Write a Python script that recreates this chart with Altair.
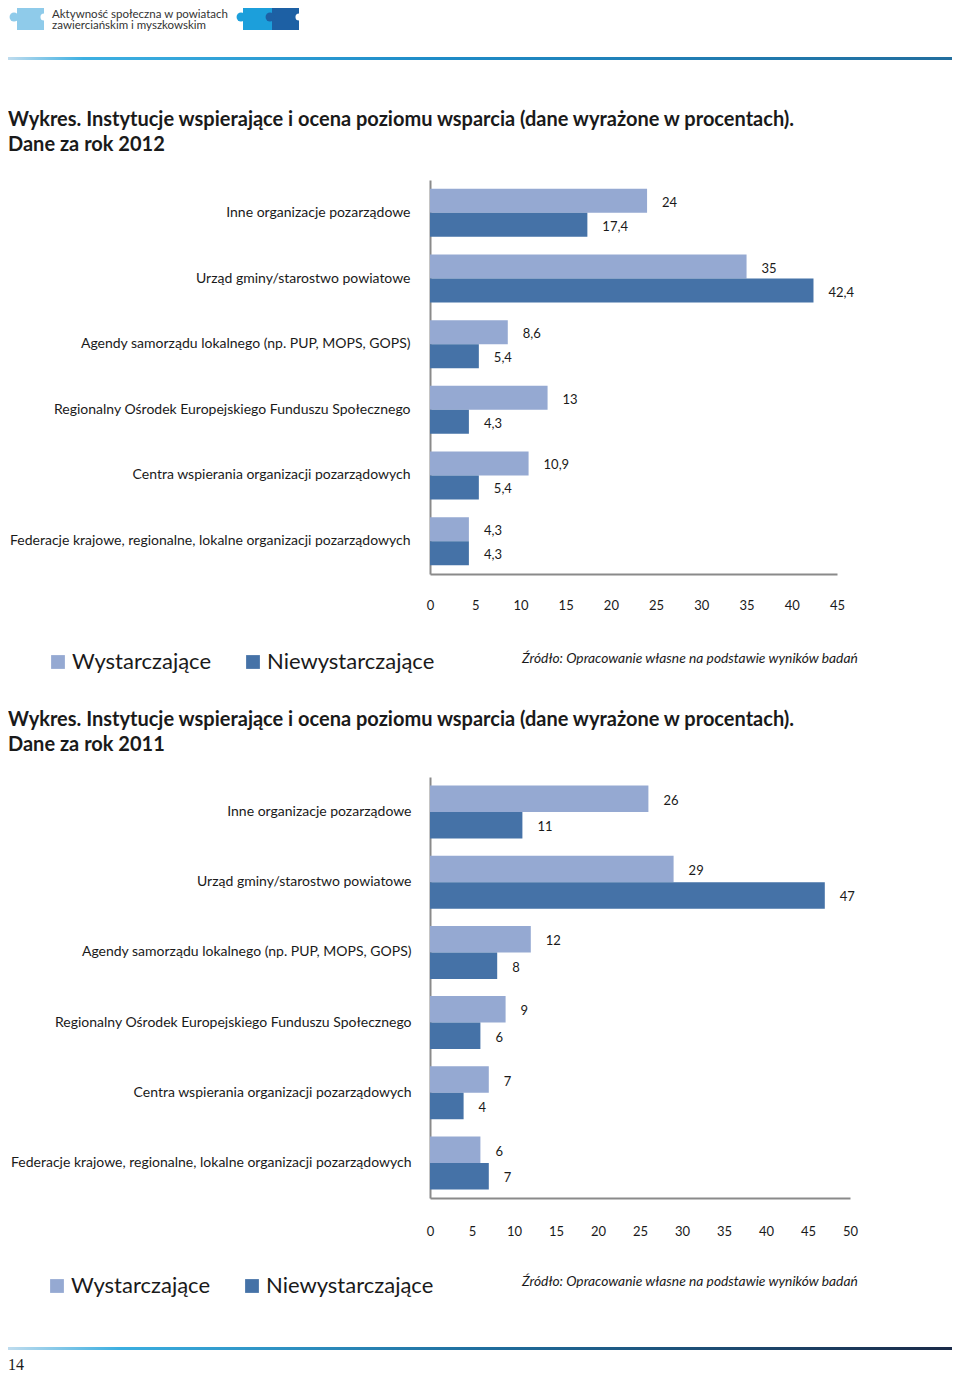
import altair as alt
import pandas as pd

# ---------------- data ----------------
categories = [
    "Inne organizacje pozarządowe",
    "Urząd gminy/starostwo powiatowe",
    "Agendy samorządu lokalnego (np. PUP, MOPS, GOPS)",
    "Regionalny Ośrodek Europejskiego Funduszu Społecznego",
    "Centra wspierania organizacji pozarządowych",
    "Federacje krajowe, regionalne, lokalne organizacji pozarządowych",
]
series = ["Wystarczające", "Niewystarczające"]
w2012 = [24, 35, 8.6, 13, 10.9, 4.3]
n2012 = [17.4, 42.4, 5.4, 4.3, 5.4, 4.3]
w2011 = [26, 29, 12, 9, 7, 6]
n2011 = [11, 47, 8, 6, 4, 7]
ticks2012 = [0, 5, 10, 15, 20, 25, 30, 35, 40, 45]
ticks2011 = [0, 5, 10, 15, 20, 25, 30, 35, 40, 45, 50]

title_line1 = "Wykres. Instytucje wspierające i ocena poziomu wsparcia (dane wyrażone w procentach)."
title2012 = "Dane za rok 2012"
title2011 = "Dane za rok 2011"
source_text = "Źródło: Opracowanie własne na podstawie wyników badań"
header1 = "Aktywność społeczna w powiatach"
header2 = "zawierciańskim i myszkowskim"
page_no = "14"

# ---------------- style ----------------
W, H = 944, 1369
FONT = "Lato"
LIGHT = "#95A9D2"
DARK = "#4572A7"
AXIS = "#8A8A8A"
INK = "#1a1a1a"


def fmt(v):
    return ("%g" % v).replace(".", ",")


def frame(w, n):
    rows = []
    for c, a, b in zip(categories, w, n):
        rows.append({"category": c, "series": series[0], "value": a, "label": fmt(a)})
        rows.append({"category": c, "series": series[1], "value": b, "label": fmt(b)})
    return pd.DataFrame(rows)


def panel(df, xmax, ticks, xrange, yrange, pin, pout, xlabpad, ylabpad, legx, legy):
    x = alt.X(
        "value:Q",
        scale=alt.Scale(domain=[0, xmax], range=xrange, nice=False, zero=True),
        axis=alt.Axis(
            orient="bottom", offset=yrange[1] - H, values=ticks, ticks=False, tickSize=0,
            grid=False, domainColor=AXIS, domainWidth=2, labelPadding=xlabpad,
            labelBaseline="middle", labelFont=FONT, labelFontSize=13, labelColor=INK,
            labelFlush=False, labelOverlap=False, format="d", title=None,
        ),
    )
    y = alt.Y(
        "category:N",
        sort=categories,
        scale=alt.Scale(domain=categories, range=yrange, paddingInner=pin, paddingOuter=pout),
        axis=alt.Axis(
            orient="left", offset=-xrange[0], ticks=False, tickSize=0, grid=False,
            domainColor=AXIS, domainWidth=2, labelPadding=ylabpad, labelLimit=0,
            labelFont=FONT, labelFontSize=14, labelColor=INK, title=None,
        ),
    )
    yo = alt.YOffset("series:N", sort=series,
                     scale=alt.Scale(domain=series, paddingInner=0, paddingOuter=0))
    color = alt.Color(
        "series:N", sort=series,
        scale=alt.Scale(domain=series, range=[LIGHT, DARK]),
        legend=alt.Legend(
            orient="none", legendX=legx, legendY=legy, direction="horizontal", title=None,
            symbolType="square", symbolSize=190, symbolStrokeWidth=0, symbolOpacity=1,
            labelFont=FONT, labelFontSize=22, labelColor=INK, labelOffset=3,
            columnPadding=30, padding=0, labelLimit=0,
        ),
    )
    base = alt.Chart(df)
    bars = base.mark_bar(opacity=1).encode(x=x, y=y, yOffset=yo, color=color)
    labels = base.mark_text(
        align="left", baseline="middle", dx=15, dy=2, font=FONT, fontSize=13, color=INK
    ).encode(x=x, y=y, yOffset=yo, text="label:N")
    return alt.layer(bars, labels)


one = pd.DataFrame({"k": [0]})


def txt(s, x, y, size, weight="normal", style="normal", font=FONT, color=INK, align="left"):
    return alt.Chart(one).mark_text(
        text=s, align=align, baseline="middle", font=font, fontSize=size,
        fontWeight=weight, fontStyle=style, color=color,
    ).encode(x=alt.value(x), y=alt.value(y))


def rect(x1, x2, y1, y2, color):
    return alt.Chart(one).mark_rect(color=color, opacity=1).encode(
        x=alt.value(x1), x2=alt.value(x2), y=alt.value(y1), y2=alt.value(y2))


def dot(x, y, r, color):
    return alt.Chart(one).mark_circle(color=color, opacity=1, size=3.1416 * r * r).encode(
        x=alt.value(x), y=alt.value(y))


def grad_line(y1, y2, stops):
    g = alt.LinearGradient(
        gradient="linear", x1=0, x2=1, y1=0, y2=0,
        stops=[alt.GradientStop(offset=o, color=c) for o, c in stops])
    return alt.Chart(one).mark_rect(color=g).encode(
        x=alt.value(0), x2=alt.value(W), y=alt.value(y1), y2=alt.value(y2))


deco = [
    # header puzzle pieces
    rect(9, 36, 0, 22, "#8FCBEA"), dot(6, 9, 5, "#8FCBEA"), dot(36, 9, 4, "white"),
    rect(235, 264, 0, 22, "#1C9FDB"), dot(233, 9, 5, "#1C9FDB"),
    rect(264, 291, 0, 22, "#1D60A4"), dot(262, 9, 5, "#1D60A4"), dot(291, 9, 4, "white"),
    txt(header1, 44, 7, 11.5, color="#333333"),
    txt(header2, 44, 18, 11.5, color="#333333"),
    grad_line(49, 52, [(0, "#BFDCEE"), (0.08, "#3DB0E2"), (0.45, "#1E8CC8"), (1, "#226E9E")]),
    # titles
    txt(title_line1, 0, 112, 20, weight="bold"),
    txt(title2012, 0, 137, 20, weight="bold"),
    txt(title_line1, 0, 712, 20, weight="bold"),
    txt(title2011, 0, 737, 20, weight="bold"),
    # sources
    txt(source_text, 514, 651, 13.8, style="italic"),
    txt(source_text, 514, 1274, 13.8, style="italic"),
    # footer
    grad_line(1339, 1342, [(0, "#BFDCEE"), (0.12, "#3AAEE0"), (0.5, "#1F6E9E"), (1, "#1A2A48")]),
    txt(page_no, 0, 1357, 16, font="Liberation Sans Narrow"),
]

p2012 = panel(frame(w2012, n2012), 45, ticks2012, [422, 829], [172, 566],
              0.269, 0.135, 31, 20, 39, 643)
p2011 = panel(frame(w2011, n2011), 50, ticks2011, [422, 842], [769, 1190],
              0.245, 0.1225, 33, 19, 38, 1267)

chart = (
    alt.layer(*deco, p2012, p2011)
    .resolve_scale(x="independent", y="independent", yOffset="independent", color="independent")
    .resolve_axis(x="independent", y="independent")
    .resolve_legend(color="independent")
    .properties(width=W, height=H, padding=0, autosize=alt.AutoSizeParams(type="none"))
    .configure_view(stroke=None)
)

chart.save("out.html", embed_options={"renderer": "svg", "actions": False})
